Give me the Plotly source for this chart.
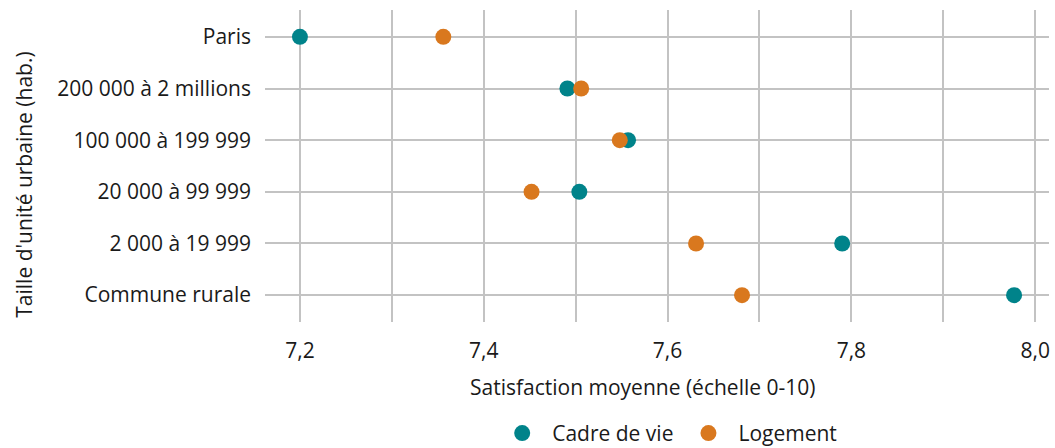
import plotly.graph_objects as go

categories = ["Paris", "200 000 à 2 millions", "100 000 à 199 999",
              "20 000 à 99 999", "2 000 à 19 999", "Commune rurale"]
cadre_de_vie = [7.200, 7.491, 7.557, 7.504, 7.790, 7.977]
logement = [7.356, 7.506, 7.548, 7.452, 7.631, 7.681]
x_ticks = [7.2, 7.4, 7.6, 7.8, 8.0]

TEAL = "#00838a"
ORANGE = "#d9781e"
GRID = "#c3c3c3"
FONT = "Open Sans"
FS = 21

fig = go.Figure()
fig.add_trace(go.Scatter(x=cadre_de_vie, y=categories, mode="markers", name="Cadre de vie",
                         marker=dict(color=TEAL, size=16)))
fig.add_trace(go.Scatter(x=logement, y=categories, mode="markers", name="Logement",
                         marker=dict(color=ORANGE, size=16)))

fig.update_layout(
    width=1055, height=448,
    margin=dict(l=265, r=6, t=10, b=126, autoexpand=False),
    plot_bgcolor="white", paper_bgcolor="white",
    separators=", ",
    font=dict(family=FONT, size=FS, color="#1a1a1a"),
    showlegend=True,
    legend=dict(orientation="h", x=0.513, xanchor="center", y=-0.357, yanchor="middle",
                font=dict(size=FS), itemwidth=50),
    xaxis=dict(range=[7.162, 8.015], tickvals=x_ticks, tickformat=".1f",
               showgrid=True, gridcolor=GRID, gridwidth=2, zeroline=False,
               showline=False, ticks="", ticklabelstandoff=14, automargin=False,
               minor=dict(dtick=0.1, tick0=7.2, showgrid=True, gridcolor=GRID, gridwidth=2)),
    yaxis=dict(range=[5.52, -0.52], showgrid=True, gridcolor=GRID, gridwidth=2,
               zeroline=False, showline=False, ticks="", ticklabelstandoff=13,
               type="category", automargin=False),
    annotations=[
        dict(text="Satisfaction moyenne (échelle 0-10)", xref="paper", yref="paper",
             x=0.481, y=0, xanchor="center", yanchor="middle", yshift=-65,
             showarrow=False, font=dict(size=FS)),
        dict(text="Taille d'unité urbaine (hab.)", xref="paper", yref="paper",
             x=0, y=0.44, xanchor="center", yanchor="middle", xshift=-241,
             textangle=-90, showarrow=False, font=dict(size=FS)),
    ],
)

fig.write_html("out.html", config={"displayModeBar": False},
               post_script="document.body.style.margin = '0px';")
